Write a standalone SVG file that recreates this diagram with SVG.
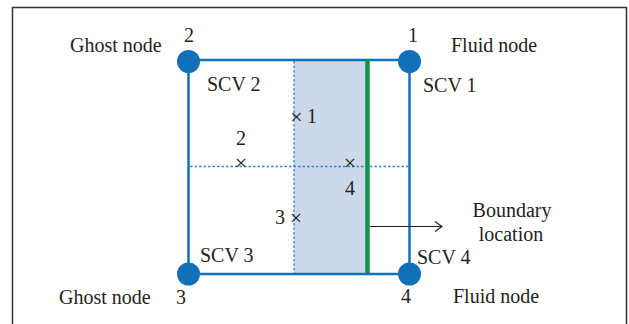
<svg xmlns="http://www.w3.org/2000/svg" width="629" height="324" viewBox="0 0 629 324">
<defs>
<style>
.t{font-family:"Liberation Serif","Times New Roman",serif;font-size:20px;fill:#231f20}
.x{font-family:"Liberation Serif","Times New Roman",serif;font-size:22px;fill:#231f20;text-anchor:middle}
.m{text-anchor:middle}
.node{fill:#1270b9}
.edge{stroke:#1270b9;stroke-width:2.5;fill:none}
.dot{stroke:#2a86d2;stroke-width:1.3;stroke-dasharray:2.5 2;fill:none}
</style>
<marker id="arr" markerWidth="10" markerHeight="12" refX="8" refY="6" orient="auto" markerUnits="userSpaceOnUse">
<path d="M1,1 L8,6 L1,11" fill="none" stroke="#231f20" stroke-width="1.2"/>
</marker>
</defs>
<rect width="629" height="324" fill="#ffffff"/>
<path d="M12.5,330 V7.5 H626.5 V330" fill="none" stroke="#333333" stroke-width="1.5"/>
<g id="region">
<rect x="294" y="60" width="72" height="214" fill="#cdd8eb"/>
</g>
<g id="connectors">
<rect class="edge" x="188.5" y="60" width="221" height="214"/>
<line class="dot" x1="294" y1="61" x2="294" y2="273"/>
<line class="dot" x1="190" y1="166.5" x2="408" y2="166.5"/>
<line x1="367.5" y1="59" x2="367.5" y2="273" stroke="#109547" stroke-width="4.5"/>
<line x1="370" y1="226.5" x2="442" y2="226.5" stroke="#231f20" stroke-width="1.2" marker-end="url(#arr)"/>
</g>
<g id="node1">
<circle class="node" cx="409.5" cy="61.5" r="11.5"/>
<text class="t m" x="413" y="42">1</text>
<text class="t" x="451" y="52">Fluid node</text>
<text class="t" x="423" y="92">SCV 1</text>
</g>
<g id="node2">
<circle class="node" cx="188.5" cy="61.5" r="11.5"/>
<text class="t m" x="189" y="42">2</text>
<text class="t" x="70" y="52">Ghost node</text>
<text class="t" x="207" y="91">SCV 2</text>
</g>
<g id="node3">
<circle class="node" cx="188.5" cy="274" r="11.5"/>
<text class="t m" x="181" y="304">3</text>
<text class="t" x="59" y="304">Ghost node</text>
<text class="t" x="200" y="262">SCV 3</text>
</g>
<g id="node4">
<circle class="node" cx="409.5" cy="274" r="11.5"/>
<text class="t m" x="406" y="303">4</text>
<text class="t" x="453" y="303">Fluid node</text>
<text class="t" x="417" y="264">SCV 4</text>
</g>
<g id="points">
<text class="x" x="296.5" y="123.5">×</text>
<text class="t" x="307" y="123">1</text>
<text class="t m" x="241" y="145">2</text>
<text class="x" x="241" y="169.5">×</text>
<text class="x" x="350" y="169.5">×</text>
<text class="t m" x="350" y="195">4</text>
<text class="t" x="275" y="223.5">3</text>
<text class="x" x="296" y="224.5">×</text>
</g>
<g id="label">
<text class="t m" x="512" y="217">Boundary</text>
<text class="t m" x="511" y="241">location</text>
</g>
</svg>
